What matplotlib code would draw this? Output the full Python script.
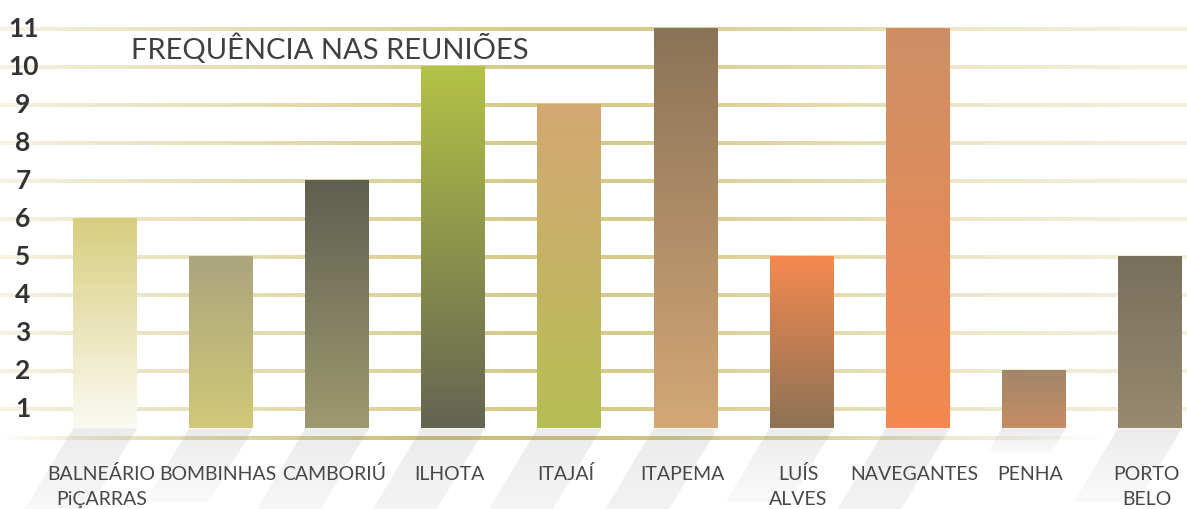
import numpy as np
import matplotlib
matplotlib.use("Agg")
import matplotlib.pyplot as plt
from matplotlib.patches import Polygon
from matplotlib.colors import to_rgb

# ---- data ----
cities = ["BALNEÁRIO\nPiÇARRAS", "BOMBINHAS", "CAMBORIÚ", "ILHOTA", "ITAJAÍ",
          "ITAPEMA", "LUÍS\nALVES", "NAVEGANTES", "PENHA", "PORTO\nBELO"]
meetings = [6, 5, 7, 10, 9, 11, 5, 11, 2, 5]
y_ticks = list(range(1, 12))
title = "FREQUÊNCIA NAS REUNIÕES"

# gradient colours per bar (top, bottom)
bar_top = ["#d8ce7e", "#aaa57d", "#5f5f50", "#b4c346", "#d4a873",
           "#8a7358", "#f58950", "#cd8f66", "#a08769", "#78705c"]
bar_bottom = ["#fbfaf2", "#d2c878", "#9e9a70", "#646452", "#b6be55",
              "#d4a876", "#8c7355", "#f58850", "#c68c63", "#98896f"]

# ---- canvas geometry ----
W, H, DPI = 1187, 509, 100
PX_X = 116.1          # pixels per category
X0_PX = 105.0         # pixel centre of first category
PX_Y = 38.06          # pixels per unit
Y0_PX = 447.4         # pixel row of value 0
BASE = 0.5            # bars start here

def px_x(p):
    return (p - X0_PX) / PX_X

def px_y(p):
    return (Y0_PX - p) / PX_Y

fig = plt.figure(figsize=(W / DPI, H / DPI), dpi=DPI)
fig.patch.set_facecolor("white")
ax = fig.add_axes([0, 0, 1, 1])
ax.set_axis_off()
xlim = (px_x(0), px_x(W))
ylim = (px_y(H), px_y(0))

# ---- gradient grid lines ----
grid_stops_px = [0, 100, 520, 640, 1000, W]
grid_cols = ["#f6f3e4", "#ede8cc", "#d6ca88", "#d7cb8b", "#efe9cf", "#f4f1de"]
xs = np.linspace(0, W, 600)
grid_rgb = np.stack([np.interp(xs, grid_stops_px, [to_rgb(c)[k] for c in grid_cols])
                     for k in range(3)], axis=-1)[None, :, :]
half = 1.9 / PX_Y
for v in y_ticks:
    ax.imshow(grid_rgb, extent=(xlim[0], xlim[1], v - half, v + half),
              aspect="auto", interpolation="bilinear", zorder=1)

# baseline strip under the bars, fading at both ends
base_stops = [0, 15, 150, 420, 620, 820, 1100, W]
base_cols = ["#ffffff", "#fbfaf2", "#e6dfb8", "#cdbf7a", "#cfc27e", "#dcd3a4", "#ffffff", "#ffffff"]
base_rgb = np.stack([np.interp(xs, base_stops, [to_rgb(c)[k] for c in base_cols])
                     for k in range(3)], axis=-1)[None, :, :]
yb = px_y(438.5)
ax.imshow(base_rgb, extent=(xlim[0], xlim[1], yb - 1.6 / PX_Y, yb + 1.6 / PX_Y),
          aspect="auto", interpolation="bilinear", zorder=1)

# ---- bars with vertical gradients ----
width = 0.55
t = np.linspace(0, 1, 256)[:, None]
for i, (v, ctop, cbot) in enumerate(zip(meetings, bar_top, bar_bottom)):
    top, bot = np.array(to_rgb(ctop)), np.array(to_rgb(cbot))
    grad = (bot[None, :] * (1 - t) + top[None, :] * t)[:, None, :]
    ax.imshow(grad, extent=(i - width / 2, i + width / 2, BASE, v), origin="lower",
              aspect="auto", interpolation="bilinear", zorder=3)

    # slanted floor shadow, length follows the bar height
    L = 0.43 * (v - BASE)
    shift = 0.6 * L * PX_Y / PX_X
    poly = Polygon([(i - width / 2, BASE), (i + width / 2, BASE),
                    (i + width / 2 - shift, BASE - L), (i - width / 2 - shift, BASE - L)],
                   closed=True, transform=ax.transData)
    a = np.linspace(0.04, 0.17, 64)[:, None]
    sh = np.zeros((64, 1, 4))
    sh[..., :3] = 0.55
    sh[..., 3] = a
    im = ax.imshow(sh, extent=(i - width / 2 - shift, i + width / 2, BASE - L, BASE),
                   origin="lower", aspect="auto", interpolation="bilinear", zorder=2)
    im.set_clip_path(poly)

# ---- text ----
for v in y_ticks:
    ax.text(px_x(23), v, str(v), ha="center", va="center", fontsize=19,
            fontweight="bold", family="Lato", color="#333333", zorder=5)

ax.text(px_x(131), px_y(59), title, ha="left", va="baseline", fontsize=21,
        fontweight="normal", family="Lato", color="#404040", zorder=5)

line_baselines = [480, 505]
for i, name in enumerate(cities):
    for k, part in enumerate(name.split("\n")):
        ax.text(i - 0.03, px_y(line_baselines[k]), part, ha="center", va="baseline",
                fontsize=14, fontweight="normal", family="Lato", color="#474747",
                zorder=5)

ax.set_xlim(*xlim)
ax.set_ylim(*ylim)
fig.savefig("out.png", dpi=DPI, facecolor="white")
